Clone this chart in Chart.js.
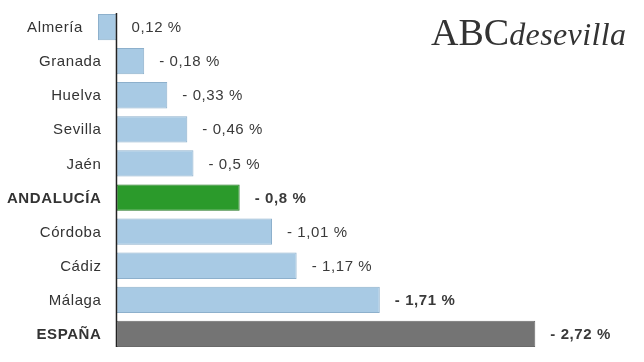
<!DOCTYPE html>
<html>
<head>
<meta charset="utf-8">
<script src="https://cdn.jsdelivr.net/npm/chart.js@4.4.1/dist/chart.umd.min.js"></script>
<style>
  html, body { margin: 0; padding: 0; background: #fff; }
  #wrap { position: relative; width: 644px; height: 362px; }
  #logo { position: absolute; left: 431px; top: 10px; color: #333; font-family: "Liberation Serif", serif; white-space: nowrap; }
  #logo .abc { font-size: 38px; }
  #logo .sev { font-size: 32px; font-style: italic; letter-spacing: 0.4px; }
</style>
</head>
<body>
<div id="wrap">
  <canvas id="myChart" width="644" height="362"></canvas>
  <div id="logo"><span class="abc">ABC</span><span class="sev">desevilla</span></div>
</div>
<script>
let provincias = ["Almería", "Granada", "Huelva", "Sevilla", "Jaén", "ANDALUCÍA", "Córdoba", "Cádiz", "Málaga", "ESPAÑA"];
let variacion = [0.12, -0.18, -0.33, -0.46, -0.5, -0.8, -1.01, -1.17, -1.71, -2.72];

let azul = '#a8cae4';
let colores = [azul, azul, azul, azul, azul, '#2b9a2b', azul, azul, azul, '#747474'];
let bordes = ['#8db0cc', '#8db0cc', '#8db0cc', '#8db0cc', '#8db0cc', '#1d731d', '#8db0cc', '#8db0cc', '#8db0cc', '#6a6a6a'];
let negritaNombre = [false, false, false, false, false, true, false, false, false, true];
let negritaValor = [false, false, false, false, false, true, false, false, true, true];

function formato(v) {
    let t = Math.abs(v).toString().replace('.', ',') + ' %';
    return v < 0 ? '- ' + t : t;
}

// eje vertical en el cero, solo a la altura de las barras
let ejeCero = {
    id: 'ejeCero',
    afterDatasetsDraw(chart) {
        let ctx = chart.ctx;
        let barras = chart.getDatasetMeta(0).data;
        let x0 = chart.scales.x.getPixelForValue(0);
        let primera = barras[0];
        let ultima = barras[barras.length - 1];
        ctx.save();
        ctx.strokeStyle = '#222';
        ctx.lineWidth = 1.5;
        ctx.beginPath();
        ctx.moveTo(x0, primera.y - primera.height / 2 - 1);
        ctx.lineTo(x0, ultima.y + ultima.height / 2);
        ctx.stroke();
        ctx.restore();
    }
};

let etiquetas = {
    id: 'etiquetas',
    afterDatasetsDraw(chart) {
        let ctx = chart.ctx;
        let x = chart.scales.x;
        let y = chart.scales.y;
        ctx.save();
        ctx.textBaseline = 'middle';
        ctx.letterSpacing = '0.6px';
        provincias.forEach(function (p, i) {
            let v = variacion[i];
            let cy = y.getPixelForValue(i);
            ctx.fillStyle = '#333';
            ctx.font = (negritaNombre[i] ? 'bold ' : '') + '15px "Liberation Sans", Arial, sans-serif';
            ctx.textAlign = 'right';
            ctx.fillText(p, x.getPixelForValue(Math.max(0, v)) - 15, cy + 1);
            ctx.fillStyle = '#3a3a3a';
            ctx.font = (negritaValor[i] ? 'bold ' : '') + '15px "Liberation Sans", Arial, sans-serif';
            ctx.textAlign = 'left';
            ctx.fillText(formato(v), x.getPixelForValue(Math.min(0, v)) + 15, cy + 1);
        });
        ctx.restore();
    }
};

let myChart = document.getElementById("myChart").getContext('2d');

let chart1 = new Chart(myChart, {
    type: 'bar',
    data: {
        labels: provincias,
        datasets: [{
            data: variacion,
            backgroundColor: colores,
            borderColor: bordes,
            borderWidth: 1,
            borderSkipped: false,
            categoryPercentage: 1,
            barPercentage: 0.77
        }]
    },
    options: {
        indexAxis: 'y',
        responsive: false,
        animation: false,
        layout: {
            padding: { left: 98, right: 4, top: 10, bottom: 11 }
        },
        scales: {
            x: {
                reverse: true,
                min: -3.4,
                max: 0.12,
                display: false
            },
            y: {
                display: false
            }
        },
        plugins: {
            legend: { display: false },
            tooltip: { enabled: false }
        }
    },
    plugins: [ejeCero, etiquetas]
});
</script>
</body>
</html>
